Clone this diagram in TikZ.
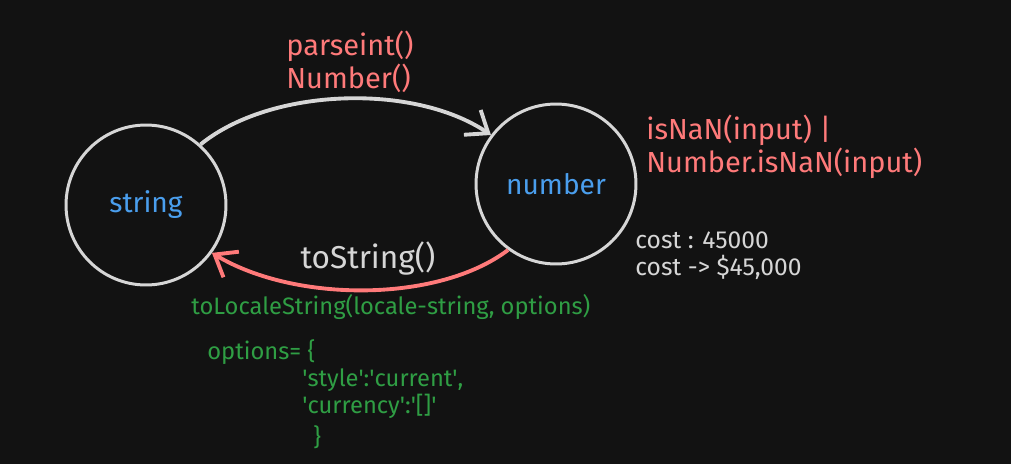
\documentclass[tikz,border=0pt]{standalone}
\usepackage{fontspec}
\setmainfont{Fira Sans}
\usetikzlibrary{arrows.meta}
\definecolor{bg}{HTML}{121212}
\definecolor{chalk}{HTML}{D6D6D6}
\definecolor{salmon}{HTML}{FF7A7A}
\definecolor{sky}{HTML}{4A9EED}
\definecolor{leaf}{HTML}{2F9E44}
\tikzset{
    state/.style={draw=chalk, line width=1.7pt, circle, minimum size=3.2cm, text=sky, font=\fontsize{16}{18}\selectfont},
    flow/.style={line width=2.2pt, -{Straight Barb[length=11pt, width=17pt]}},
    redtext/.style={anchor=west, inner sep=0pt, align=left, text=salmon, font=\fontsize{16.5}{18.7}\selectfont},
    greytext/.style={anchor=west, inner sep=0pt, align=left, text=chalk, font=\fontsize{14}{15.3}\selectfont},
    greentext/.style={anchor=west, inner sep=0pt, align=left, text=leaf, font=\fontsize{13.5}{15.3}\selectfont}
}

\begin{document}
\begin{tikzpicture}[x=0.02cm, y=-0.02cm]
        \fill[bg] (0,0) rectangle (1011,464);
        \node[state] (str) at (146,205) {string};
        \node[state] (num) at (556,184) {number};
        \draw[flow, chalk] (str.48) .. controls +(70,-57) and +(-77,-52) .. (num.143);
        \draw[flow, salmon] (num.234) .. controls +(-70,53) and +(83,50) .. (str.324);
        \node[redtext] (conv) at (286,62) {parseint()\\Number()};
        \node[redtext] (nan) at (646,147) {isNaN(input) |\\Number.isNaN(input)};
        \node[greytext] (cost) at (635,256) {cost : 45000\\cost -> \$45,000};
        \node[inner sep=0pt, text=chalk, font=\fontsize{18}{20}\selectfont] (tostr) at (368,258) {toString()};
        \node[greentext] (loc) at (191,307) {toLocaleString(locale-string, options)};
        \node[greentext] (opt) at (207,352) {options= \{};
        \node[greentext] (sty) at (302,394) {\textquotesingle style\textquotesingle:\textquotesingle current\textquotesingle,\\\textquotesingle currency\textquotesingle:\textquotesingle[]\textquotesingle};
        \node[greentext] (close) at (313,437) {\}};
    \end{tikzpicture}
\end{document}
